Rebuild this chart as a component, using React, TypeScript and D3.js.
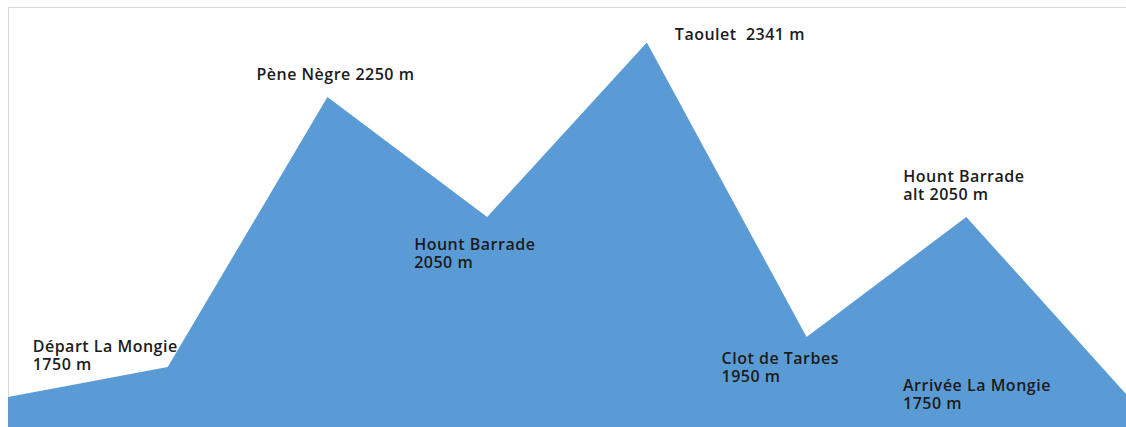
import React from "react";
import * as d3 from "d3";

// Data
const stops: string[] = [
  "Départ",
  "Départ La Mongie",
  "Pène Nègre",
  "Hount Barrade",
  "Taoulet",
  "Clot de Tarbes",
  "Hount Barrade alt",
  "Arrivée La Mongie",
];
const altitudes: number[] = [1750, 1800, 2250, 2050, 2341, 1850, 2050, 1755];

const labelLines: string[][] = [
  ["Départ La Mongie", "1750 m"],
  ["Pène Nègre 2250 m"],
  ["Hount Barrade", "2050 m"],
  ["Taoulet  2341 m"],
  ["Clot de Tarbes", "1950 m"],
  ["Hount Barrade", "alt 2050 m"],
  ["Arrivée La Mongie", "1750 m"],
];
const labelStop: number[] = [1, 2, 3, 4, 5, 6, 7];

// layout (offsets from the anchor point)
const labelOffsets: [number, number][] = [
  [-135, -15],
  [-71, -17],
  [-73, 33],
  [28, -2],
  [-85, 27],
  [-63, -35],
  [-223, -3],
];

const W = 1126;
const H = 427;

export default function App() {
  const x = d3
    .scalePoint<number>()
    .domain(d3.range(stops.length))
    .range([8, 1126]);
  const y = d3.scaleLinear().domain([1700, 2400]).range([427, 7]);

  const area = d3
    .area<number>()
    .x((_, i) => x(i) as number)
    .y0(y(1700))
    .y1((d) => y(d));

  return (
    <svg
      width={W}
      height={H}
      style={{ position: "absolute", left: 0, top: 0, background: "#fff" }}
    >
      <rect x={0} y={0} width={W} height={H} fill="#ffffff" />
      <rect
        x={8.5}
        y={7.5}
        width={W + 10}
        height={H + 10}
        fill="none"
        stroke="#d9d9d9"
        strokeWidth={1}
      />
      <path d={area(altitudes) || ""} fill="#5b9bd5" />
      {labelLines.map((lines, k) => {
        const i = labelStop[k];
        const px = (x(i) as number) + labelOffsets[k][0];
        const py = y(altitudes[i]) + labelOffsets[k][1];
        return (
          <text
            key={k}
            x={px}
            y={py}
            fontFamily="'Open Sans', sans-serif"
            fontWeight={600}
            fontSize={16}
            letterSpacing={0.5}
            fill="#1b1b1b"
          >
            {lines.map((l, j) => (
              <tspan key={j} x={px} dy={j === 0 ? 0 : 18} style={{ whiteSpace: "pre" }}>
                {l}
              </tspan>
            ))}
          </text>
        );
      })}
    </svg>
  );
}
